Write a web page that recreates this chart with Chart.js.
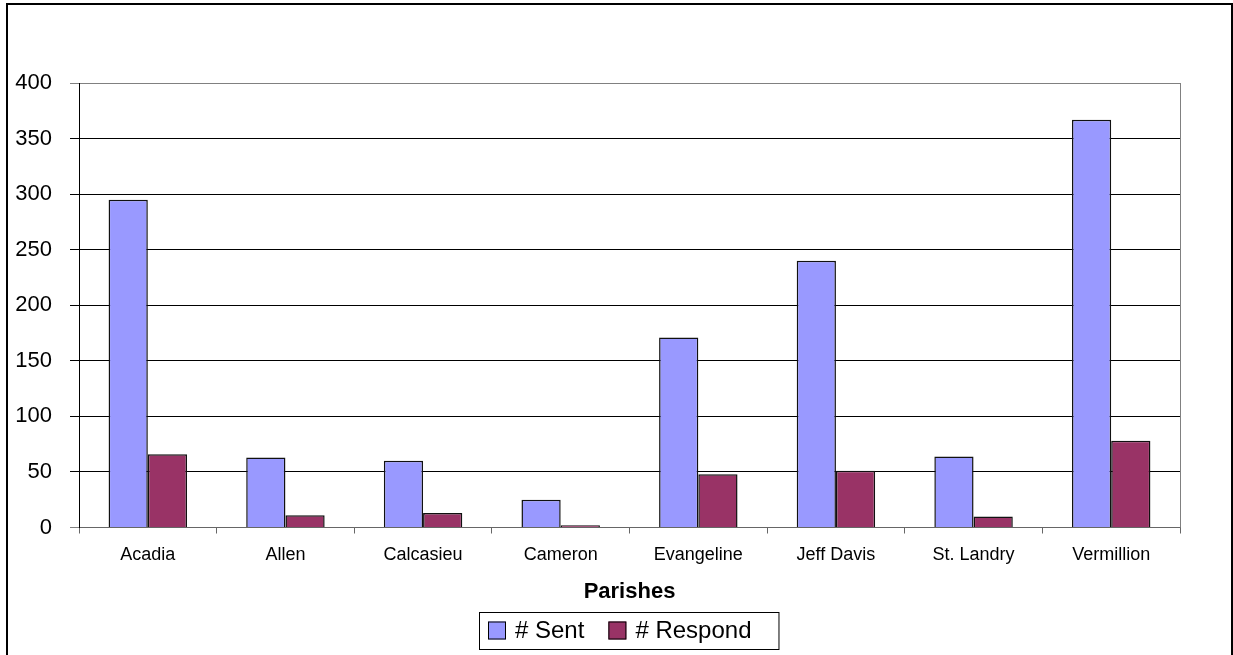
<!DOCTYPE html>
<html>
<head>
<meta charset="utf-8">
<script src="https://cdn.jsdelivr.net/npm/chart.js@4"></script>
<style>
  html, body { margin: 0; padding: 0; background: #fff; overflow: hidden; }
  #wrap { position: relative; width: 1233px; height: 655px; }
  #frame {
    position: absolute; left: 6px; top: 3px; width: 1223px; height: 700px;
    border: 2px solid #000; pointer-events: none;
  }
</style>
</head>
<body>
<div id="wrap">
  <canvas id="chart" width="1233" height="655"></canvas>
  <div id="frame"></div>
</div>
<script>
const parishes = ['Acadia', 'Allen', 'Calcasieu', 'Cameron', 'Evangeline', 'Jeff Davis', 'St. Landry', 'Vermillion'];
const sent = [295, 63, 60, 25, 171, 240, 64, 367];
const respond = [66, 11, 13, 2, 48, 51, 10, 78];
const seriesNames = ['# Sent', '# Respond'];
const seriesColors = ['#9999FF', '#993366'];

const FONT = 'Arial, "Liberation Sans", sans-serif';

// right edge of plot + boxed legend under the axis title
const extras = {
    id: 'extras',
    afterDraw(chart) {
        const ctx = chart.ctx;
        const area = chart.chartArea;
        ctx.save();
        ctx.strokeStyle = '#808080';
        ctx.lineWidth = 1;
        ctx.beginPath();
        ctx.moveTo(area.right + 0.5, area.top);
        ctx.lineTo(area.right + 0.5, area.bottom);
        ctx.stroke();

        ctx.font = '24px ' + FONT;
        ctx.textBaseline = 'middle';
        const box = 18, gap = 9, itemGap = 24, padL = 9, padR = 27;
        const items = chart.data.datasets.map(ds => ({
            label: ds.label, color: ds.backgroundColor,
            w: box + gap + ctx.measureText(ds.label).width
        }));
        const total = items.reduce((s, it) => s + it.w, 0) + itemGap * (items.length - 1) + padL + padR;
        const left = 479, top = 612, h = 37;
        let x = left;
        ctx.strokeStyle = '#000';
        ctx.strokeRect(x + 0.5, top + 0.5, total, h);
        x += padL;
        const cy = top + h / 2;
        items.forEach(it => {
            ctx.fillStyle = it.color;
            ctx.fillRect(x, cy - box / 2, box, box);
            ctx.strokeStyle = '#000';
            ctx.strokeRect(x + 0.5, cy - box / 2 + 0.5, box - 1, box - 1);
            ctx.fillStyle = '#000';
            ctx.fillText(it.label, x + box + gap, cy + 1);
            x += it.w + itemGap;
        });
        ctx.restore();
    }
};

new Chart(document.getElementById('chart'), {
    type: 'bar',
    data: {
        labels: parishes,
        datasets: [
            { label: seriesNames[0], data: sent, backgroundColor: seriesColors[0] },
            { label: seriesNames[1], data: respond, backgroundColor: seriesColors[1] }
        ]
    },
    options: {
        responsive: false,
        animation: false,
        layout: { padding: { top: 83, right: 53, left: 0, bottom: 47.5 } },
        datasets: {
            bar: {
                borderColor: '#111',
                borderWidth: 1.5,
                categoryPercentage: 0.57,
                barPercentage: 1
            }
        },
        plugins: {
            legend: { display: false },
            tooltip: { enabled: false }
        },
        scales: {
            x: {
                afterFit(scale) { scale.height = 80; },
                grid: {
                    offset: true,
                    drawOnChartArea: false,
                    color: '#666',
                    tickLength: 6
                },
                border: { color: '#666', width: 1 },
                ticks: {
                    color: '#000',
                    padding: 11,
                    maxRotation: 0,
                    font: { family: FONT, size: 18 }
                },
                title: {
                    display: true,
                    text: 'Parishes',
                    color: '#000',
                    padding: { top: 4, bottom: 2 },
                    font: { family: FONT, size: 22, weight: 'bold' }
                }
            },
            y: {
                min: 0,
                max: 400,
                afterFit(scale) { scale.width = 79; },
                grid: {
                    color: ctx => (ctx.tick && (ctx.tick.value === 400 || ctx.tick.value === 0)) ? '#808080' : '#000',
                    tickLength: 9
                },
                border: { color: '#000', width: 1 },
                ticks: {
                    stepSize: 50,
                    color: '#000',
                    padding: 18,
                    font: { family: FONT, size: 22 }
                }
            }
        }
    },
    plugins: [extras]
});
</script>
</body>
</html>
